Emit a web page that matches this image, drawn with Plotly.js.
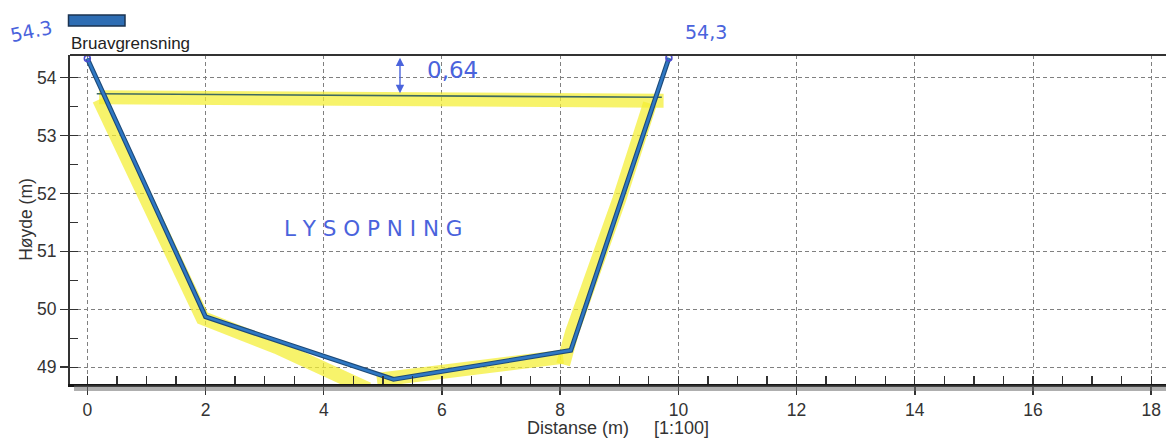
<!DOCTYPE html>
<html>
<head>
<meta charset="utf-8">
<script src="https://cdn.plot.ly/plotly-3.0.1.min.js"></script>
<style>html,body{margin:0;padding:0;background:#fff;}#chart{width:1166px;height:438px;}</style>
</head>
<body>
<div id="chart"></div>
<script>
// Profile of the bridge opening (Bruavgrensning)
var profileX = [0, 2.0, 5.18, 8.18, 9.84];
var profileY = [54.33, 49.87, 48.79, 49.29, 54.34];

// Hand-drawn horizontal line (underside of bridge)
var lineX = [0.16, 9.72];
var lineY = [53.72, 53.66];

// Hand-drawn yellow highlighter strokes
var hlTopX = [0.2, 9.75];
var hlTopY = [53.66, 53.6];
var hlLeftX = [0.2, 1.0, 1.95, 3.2, 4.75];
var hlLeftY = [53.62, 51.95, 49.85, 49.35, 48.62];
var hlBotX = [4.9, 6.2, 8.05];
var hlBotY = [48.78, 48.92, 49.18];
var hlRightX = [8.05, 8.2, 9.0, 9.52];
var hlRightY = [49.05, 49.6, 51.9, 53.55];

var xTicks = [0, 2, 4, 6, 8, 10, 12, 14, 16, 18];
var yTicks = [49, 50, 51, 52, 53, 54];

var hlColor = 'rgba(244,238,50,0.72)';
var pen = '#4a63dc';

function hl(x, y) {
  return {x: x, y: y, mode: 'lines', line: {color: hlColor, width: 14}, hoverinfo: 'skip', showlegend: false};
}

var traces = [
  hl(hlTopX, hlTopY), hl(hlLeftX, hlLeftY), hl(hlBotX, hlBotY), hl(hlRightX, hlRightY),
  {x: lineX, y: lineY, mode: 'lines', line: {color: '#3f6a60', width: 1.6}, showlegend: false},
  {x: profileX, y: profileY, mode: 'lines', line: {color: '#1d4a78', width: 4.8}, showlegend: false},
  {x: profileX, y: profileY, mode: 'lines', line: {color: '#2f78c4', width: 2.6}, name: 'Bruavgrensning', showlegend: false},
  {x: [profileX[0], profileX[profileX.length - 1]], y: [profileY[0], profileY[profileY.length - 1]],
   mode: 'markers', marker: {size: 6, color: 'rgba(0,0,0,0)', line: {color: '#4a4ad0', width: 1.5}}, showlegend: false, cliponaxis: false}
];

var pxW = 1096, pxH = 329; // plot area size in px
function px(xp) { return (xp - 70) / pxW; }
function py(yp) { return (384 - yp) / pxH; }

var layout = {
  width: 1166, height: 438,
  margin: {l: 70, r: 0, t: 55, b: 54},
  paper_bgcolor: '#fff', plot_bgcolor: '#fff',
  font: {family: 'Liberation Sans, Arial, sans-serif', color: '#333'},
  showlegend: false,
  xaxis: {
    range: [-0.293, 18.25], tickvals: xTicks, ticktext: xTicks.map(String),
    ticks: 'outside', ticklen: 8, tickwidth: 1.5, tickcolor: '#333',
    showgrid: true, gridcolor: '#808080', griddash: '4px,3px', gridwidth: 1,
    showline: true, linecolor: '#151515', linewidth: 2.5, zeroline: false,
    minor: {dtick: 0.5, tick0: 0, ticks: 'inside', ticklen: 8, tickwidth: 1.3, tickcolor: '#333', showgrid: false},
    tickfont: {size: 17.5, color: '#333'},
    title: {text: 'Distanse (m)\u00a0\u00a0\u00a0\u00a0\u00a0[1:100]', font: {size: 18, color: '#333'}, standoff: 4}
  },
  yaxis: {
    range: [48.71, 54.39], tickvals: yTicks, ticktext: yTicks.map(String),
    ticks: 'outside', ticklen: 8, tickwidth: 1.5, tickcolor: '#333',
    showgrid: true, gridcolor: '#808080', griddash: '4px,3px', gridwidth: 1,
    showline: true, linecolor: '#333', linewidth: 2, zeroline: false,
    minor: {dtick: 0.5, tick0: 0, ticks: 'inside', ticklen: 8, tickwidth: 1.3, tickcolor: '#333', showgrid: false},
    tickfont: {size: 17.5, color: '#333'},
    title: {text: 'Høyde (m)', font: {size: 17.5, color: '#333'}, standoff: 0}
  },
  shapes: [
    {type: 'line', xref: 'paper', yref: 'paper', x0: 0, x1: 1, y0: 1, y1: 1, line: {color: '#333', width: 2}},
    {type: 'rect', xref: 'paper', yref: 'paper', x0: px(74), x1: 1, y0: py(391), y1: py(385.5), fillcolor: 'rgba(110,110,110,0.55)', line: {width: 0}},
    {type: 'rect', xref: 'paper', yref: 'paper', x0: px(68.5), x1: px(125), y0: py(26), y1: py(15), fillcolor: '#2e6db3', line: {color: '#1b3350', width: 1.5}}
  ],
  annotations: [
    {xref: 'paper', yref: 'paper', x: px(69), y: py(43), xanchor: 'left', yanchor: 'middle', text: 'Bruavgrensning', showarrow: false, font: {size: 17, color: '#222'}},
    {xref: 'paper', yref: 'paper', x: px(31), y: py(31), xanchor: 'center', yanchor: 'middle', text: '54.3', showarrow: false, textangle: -12, font: {family: 'DejaVu Sans', size: 19, color: pen}},
    {xref: 'paper', yref: 'paper', x: px(706), y: py(32), xanchor: 'center', yanchor: 'middle', text: '54,3', showarrow: false, font: {family: 'DejaVu Sans', size: 19, color: pen}},
    {x: 6.18, y: 54.13, xanchor: 'center', yanchor: 'middle', text: '0,64', showarrow: false, font: {family: 'DejaVu Sans', size: 23, color: pen}},
    {x: 4.85, y: 51.4, xanchor: 'center', yanchor: 'middle', text: 'L Y S O P N I N G', showarrow: false, font: {family: 'DejaVu Sans', size: 21.5, color: pen}},
    {x: 5.29, y: 53.73, ax: 5.29, ay: 54.37, axref: 'x', ayref: 'y', text: '', showarrow: true,
     arrowside: 'end+start', arrowhead: 2, startarrowhead: 2, arrowsize: 1.2, startarrowsize: 1.2, arrowwidth: 1.4, arrowcolor: pen, standoff: 0, startstandoff: 0}
  ]
};

Plotly.newPlot('chart', traces, layout, {staticPlot: true, displayModeBar: false});
</script>
</body>
</html>
